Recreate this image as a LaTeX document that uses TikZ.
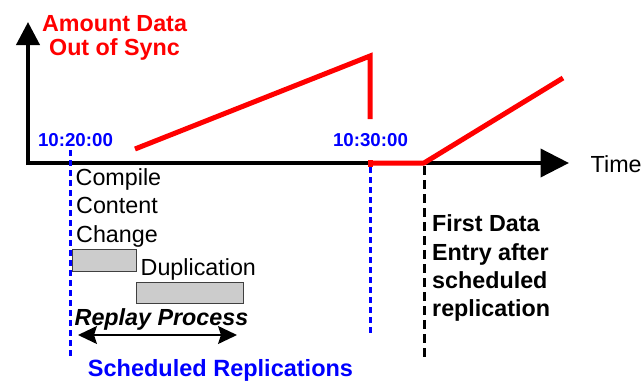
\documentclass[tikz,border=0pt]{standalone}
\usepackage{fontspec}
\setmainfont{Liberation Sans}
\usetikzlibrary{arrows.meta}
\definecolor{axisred}{RGB}{255,0,0}
\definecolor{timeblue}{RGB}{0,0,255}
\definecolor{barfill}{RGB}{204,204,204}
\definecolor{barline}{RGB}{64,64,64}
\tikzset{
  txt/.style={inner sep=0pt, anchor=base west, font=\fontsize{23.3}{28}\selectfont},
  boldtxt/.style={txt, font=\fontsize{23.3}{28}\selectfont\bfseries},
  stamp/.style={inner sep=0pt, anchor=base, text=timeblue, font=\fontsize{18.7}{22}\selectfont\bfseries},
  axisline/.style={line width=4pt, black},
  redline/.style={line width=5pt, axisred},
  bluedash/.style={line width=3pt, timeblue, dash pattern=on 6pt off 4pt},
  blackdash/.style={line width=3pt, black, dash pattern=on 9pt off 5pt},
  bar/.style={draw=barline, fill=barfill, line width=1pt},
}
\begin{document}
\begin{tikzpicture}[x=1pt, y=-1pt]
\useasboundingbox (0,0) rectangle (642,380);

% axes
\coordinate (origin) at (28,163);
\coordinate (ytip) at (28,22);
\coordinate (xtip) at (569,163);
\coordinate (ybase) at (28,165);
\coordinate (xbase) at (26,163);
\draw[axisline, -{Triangle[length=23pt,width=23pt]}] (ybase) -- (ytip);
\draw[axisline, -{Triangle[length=28.5pt,width=28pt]}] (xbase) -- (xtip);

% axis labels
\node[inner sep=0pt, anchor=base, text=axisred, font=\fontsize{23.3}{24}\selectfont\bfseries] (amt1) at (114.5,31) {Amount Data};
\node[inner sep=0pt, anchor=base, text=axisred, font=\fontsize{23.3}{24}\selectfont\bfseries] (amt2) at (114.5,55) {Out of Sync};
\node[txt] (time) at (590.5,172) {Time};

% replication instants
\coordinate (t1top) at (70,150);
\coordinate (t1bot) at (70,357);
\coordinate (t2top) at (370,167);
\coordinate (t2bot) at (370,333);
\coordinate (entrytop) at (424,166);
\coordinate (entrybot) at (424,360);
\draw[bluedash] (t1top) -- (t1bot);
\draw[bluedash] (t2top) -- (t2bot);
\draw[blackdash] (entrytop) -- (entrybot);

\node[stamp] (ts1) at (75.5,146) {10:20:00};
\node[stamp] (ts2) at (370.5,146) {10:30:00};

% amount of data out of sync
\coordinate (r1) at (135,149);
\coordinate (r2) at (370,56);
\coordinate (r3) at (370,119);
\coordinate (r4) at (371,163);
\coordinate (r5) at (424,163);
\coordinate (r6) at (563,78);
\draw[redline, line join=miter] (r1) -- (r2) -- (r3);
\draw[redline, line join=round] (r4) -- (r5) -- (r6);
\fill[axisred] (367.5,159.5) rectangle (373,166.5);

% replication steps
\node[txt] (cc1) at (75.5,185) {Compile};
\node[txt] (cc2) at (76,213.5) {Content};
\node[txt] (cc3) at (76,242) {Change};
\node[bar, inner sep=0pt, minimum width=64pt, minimum height=22pt, anchor=north west] (bar1) at (72,249) {};
\node[txt] (dup) at (140.5,275) {Duplication};
\node[bar, inner sep=0pt, minimum width=107pt, minimum height=21pt, anchor=north west] (bar2) at (136,282) {};
\node[txt, font=\fontsize{23.3}{28}\selectfont\bfseries\itshape] (replay) at (74.5,325) {Replay Process};

\coordinate (rpl) at (78,335);
\coordinate (rpr) at (237,335);
\draw[line width=1.5pt, {Stealth[length=19pt,width=18pt,inset=3pt]}-{Stealth[length=19pt,width=18pt,inset=3pt]}] (rpl) -- (rpr);

\node[inner sep=0pt, anchor=base, text=timeblue, font=\fontsize{23.5}{28}\selectfont\bfseries] (sched) at (220.5,376) {Scheduled Replications};

% first entry note
\node[boldtxt] (fe1) at (432,231.5) {First Data};
\node[boldtxt] (fe2) at (432,260) {Entry after};
\node[boldtxt] (fe3) at (432,288) {scheduled};
\node[boldtxt] (fe4) at (432,316.5) {replication};
\end{tikzpicture}
\end{document}
